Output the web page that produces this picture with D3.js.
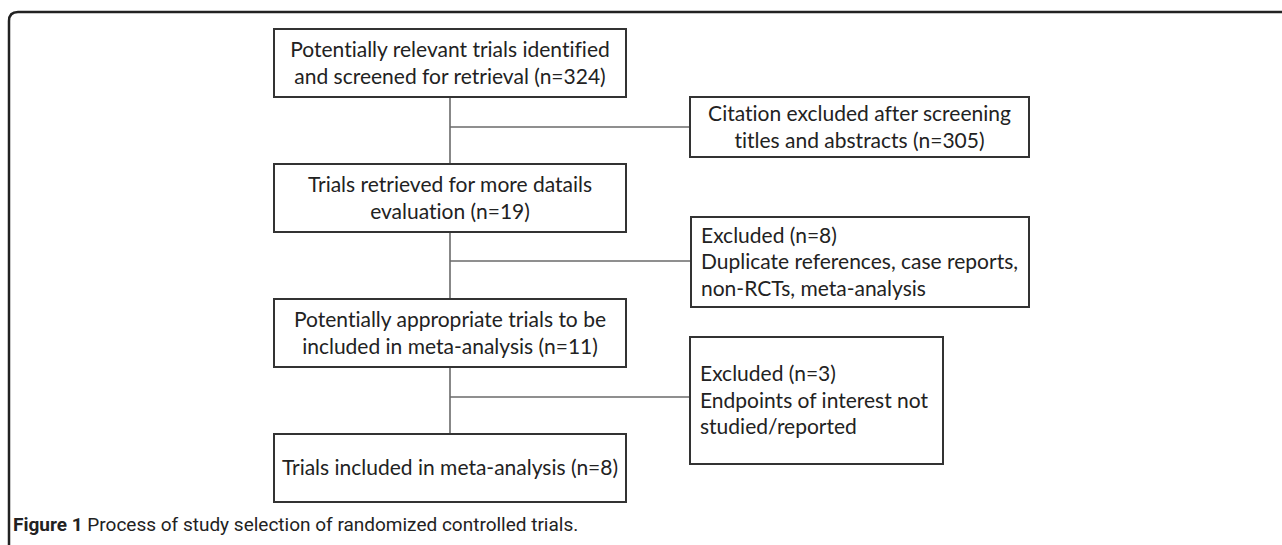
<!DOCTYPE html>
<html>
<head>
<meta charset="utf-8">
<script src="https://cdn.jsdelivr.net/npm/d3@7"></script>
<style>
  html, body { margin: 0; padding: 0; background: #fff; }
  svg { display: block; }
  text { font-variant-ligatures: none; }
</style>
</head>
<body>
<svg id="chart" width="1282" height="545"></svg>
<script>
// ---- data ----
const mainSteps = [
  ["Potentially relevant trials identified", "and screened for retrieval (n=324)"],
  ["Trials retrieved for more datails", "evaluation (n=19)"],
  ["Potentially appropriate trials to be", "included in meta-analysis (n=11)"],
  ["Trials included in meta-analysis (n=8)"]
];
const mainCounts = [324, 19, 11, 8];
const exclusions = [
  ["Citation excluded after screening", "titles and abstracts (n=305)"],
  ["Excluded (n=8)", "Duplicate references, case reports,", "non-RCTs, meta-analysis"],
  ["Excluded (n=3)", "Endpoints of interest not", "studied/reported"]
];
const excludedCounts = [305, 8, 3];
const captionBold = "Figure 1";
const captionText = " Process of study selection of randomized controlled trials.";

// ---- layout ----
const svg = d3.select("#chart");
const W = 1282, H = 545;

// outer frame (rounded top-left corner)
const fx = 9, fy = 12, r = 9;
const frame = d3.path();
frame.moveTo(fx, H + 5);
frame.lineTo(fx, fy + r);
frame.quadraticCurveTo(fx, fy, fx + r, fy);
frame.lineTo(W + 5, fy);
svg.append("path").attr("d", frame.toString())
  .attr("fill", "none").attr("stroke", "#222").attr("stroke-width", 2.5);

// vertical scale for main boxes
const yMain = d3.scaleLinear().domain([0, 3]).range([29, 434]);
const mainX0 = 274, mainX1 = 626, mainH = 68;
const stemX = (mainX0 + mainX1) / 2;

const sideBoxes = [
  {x0: 690, x1: 1029, y0: 97, y1: 157, align: "middle", connY: 127},
  {x0: 691, x1: 1029, y0: 217, y1: 307, align: "start", connY: 261},
  {x0: 690, x1: 943, y0: 337, y1: 464, align: "start", connY: 397}
];

const lineColor = "#6a6a6a";
const boxColor = "#333";
const textColor = "#222";
const fontFam = "Lato, 'Open Sans', sans-serif";
const fs = 21;

// connectors: vertical stems
const stems = d3.range(3);
svg.selectAll("line.stem").data(stems).join("line")
  .attr("class", "stem")
  .attr("x1", stemX).attr("x2", stemX)
  .attr("y1", i => yMain(i) + mainH)
  .attr("y2", i => yMain(i + 1))
  .attr("stroke", lineColor).attr("stroke-width", 1.6);

// horizontal connectors
svg.selectAll("line.conn").data(sideBoxes).join("line")
  .attr("class", "conn")
  .attr("x1", stemX).attr("x2", d => d.x0)
  .attr("y1", d => d.connY).attr("y2", d => d.connY)
  .attr("stroke", lineColor).attr("stroke-width", 1.6);

// main boxes
const mg = svg.selectAll("g.main").data(mainSteps).join("g").attr("class", "main");
mg.append("rect")
  .attr("x", mainX0).attr("y", (d, i) => yMain(i))
  .attr("width", mainX1 - mainX0).attr("height", mainH)
  .attr("fill", "#fff").attr("stroke", boxColor).attr("stroke-width", 2);
mg.each(function(lines, i) {
  const g = d3.select(this);
  const cy = yMain(i) + mainH / 2;
  const lh = 26.5;
  const startY = cy - (lines.length - 1) * lh / 2;
  g.selectAll("text").data(lines).join("text")
    .attr("x", stemX)
    .attr("y", (t, j) => startY + j * lh)
    .attr("dy", "0.35em")
    .attr("text-anchor", "middle")
    .attr("font-family", fontFam).attr("font-size", fs)
    .attr("fill", textColor)
    .text(t => t);
});

// side boxes
const sg = svg.selectAll("g.side").data(exclusions).join("g").attr("class", "side");
sg.append("rect")
  .attr("x", (d, i) => sideBoxes[i].x0).attr("y", (d, i) => sideBoxes[i].y0)
  .attr("width", (d, i) => sideBoxes[i].x1 - sideBoxes[i].x0)
  .attr("height", (d, i) => sideBoxes[i].y1 - sideBoxes[i].y0)
  .attr("fill", "#fff").attr("stroke", boxColor).attr("stroke-width", 2);
sg.each(function(lines, i) {
  const b = sideBoxes[i];
  const g = d3.select(this);
  const cy = (b.y0 + b.y1) / 2;
  const lh = 26.5;
  const startY = cy - (lines.length - 1) * lh / 2;
  g.selectAll("text").data(lines).join("text")
    .attr("x", b.align === "middle" ? (b.x0 + b.x1) / 2 : b.x0 + 10)
    .attr("y", (t, j) => startY + j * lh)
    .attr("dy", "0.35em")
    .attr("text-anchor", b.align)
    .attr("font-family", fontFam).attr("font-size", fs)
    .attr("fill", textColor)
    .text(t => t);
});

// caption
const cap = svg.append("text")
  .attr("x", 13).attr("y", 531)
  .attr("font-family", "Roboto, 'Open Sans', sans-serif")
  .attr("font-size", 19).attr("fill", "#222");
cap.append("tspan").attr("font-weight", "bold").text(captionBold);
cap.append("tspan").text(captionText);
</script>
</body>
</html>
